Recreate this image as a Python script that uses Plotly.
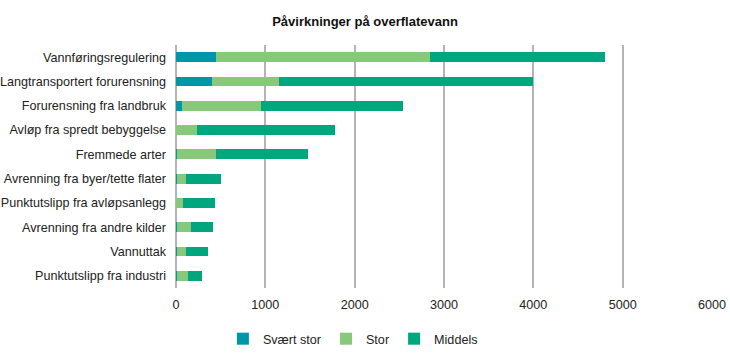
import plotly.graph_objects as go

categories = [
    "Vannføringsregulering",
    "Langtransportert forurensning",
    "Forurensning fra landbruk",
    "Avløp fra spredt bebyggelse",
    "Fremmede arter",
    "Avrenning fra byer/tette flater",
    "Punktutslipp fra avløpsanlegg",
    "Avrenning fra andre kilder",
    "Vannuttak",
    "Punktutslipp fra industri",
]
svaert_stor = [447, 398, 63, 3, 8, 8, 3, 8, 8, 8]
stor = [2391, 753, 894, 235, 439, 104, 71, 160, 104, 122]
middels = [1966, 2845, 1583, 1545, 1035, 391, 357, 245, 249, 160]
series_names = ["Svært stor", "Stor", "Middels"]
colors = ["#0096A9", "#87C87A", "#00A67D"]

fig = go.Figure()
for name, vals, col in zip(series_names, [svaert_stor, stor, middels], colors):
    fig.add_trace(go.Bar(
        y=categories, x=vals, name=name, orientation="h",
        marker=dict(color=col, line=dict(width=0)),
    ))

fig.update_layout(
    barmode="stack",
    bargap=0.6,
    width=730, height=362,
    margin=dict(l=176, r=18, t=45, b=74, autoexpand=False),
    paper_bgcolor="white", plot_bgcolor="white",
    font=dict(family="Liberation Sans, Arial, sans-serif", size=12.6, color="#222"),
    title=dict(text="<b>Påvirkninger på overflatevann</b>", x=(365 - 176) / 536,
               xanchor="center", xref="paper", yref="container", y=1 - 21 / 362,
               yanchor="middle", font=dict(size=13, color="#111")),
    xaxis=dict(range=[0, 6000], dtick=1000, showgrid=True, gridcolor="#B4B4B4",
               gridwidth=1.5, zeroline=True, zerolinecolor="#B4B4B4", zerolinewidth=1.5,
               ticks="", automargin=False, ticklabelstandoff=7,
               tickfont=dict(size=12.6, color="#222")),
    yaxis=dict(autorange="reversed", ticks="", showgrid=False, automargin=False,
               ticklabelstandoff=9, tickfont=dict(size=12.6, color="#222")),
    legend=dict(orientation="h", x=0.33, xanchor="center",
                yref="container", y=1 - 339 / 362, yanchor="middle",
                font=dict(size=12.6, color="#222"), traceorder="normal",
                itemwidth=30),
)

fig.write_html("out.html", config={"displayModeBar": False},
               post_script="document.body.style.margin='0';")
